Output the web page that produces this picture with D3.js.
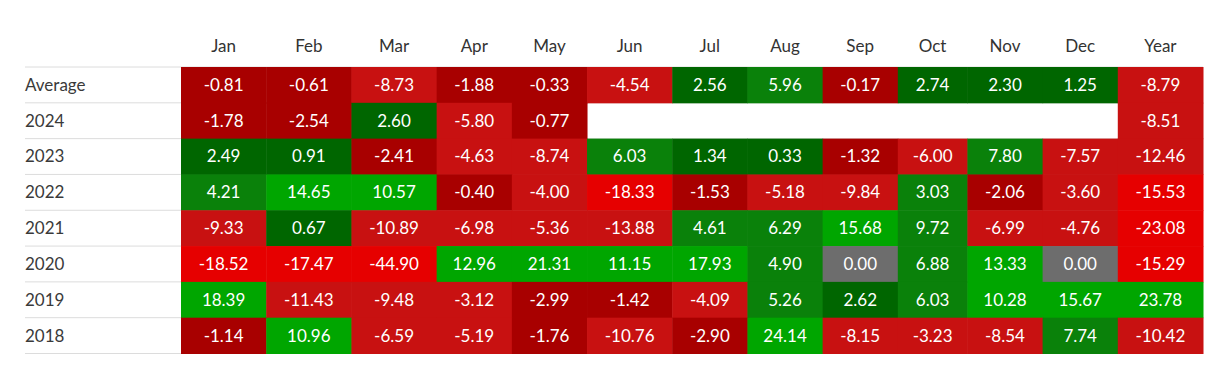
<!DOCTYPE html>
<html>
<head>
<meta charset="utf-8">
<script src="https://cdn.jsdelivr.net/npm/d3@7"></script>
<style>
  html, body { margin: 0; padding: 0; background: #fff; }
  svg { display: block; }
  svg text { font-variant-numeric: tabular-nums; }
</style>
</head>
<body>
<svg id="chart" width="1215" height="374"></svg>
<script>
// ---- data ----
const columns = ["Jan","Feb","Mar","Apr","May","Jun","Jul","Aug","Sep","Oct","Nov","Dec","Year"];
const rowLabels = ["Average","2024","2023","2022","2021","2020","2019","2018"];
const average = [-0.81, -0.61, -8.73, -1.88, -0.33, -4.54, 2.56, 5.96, -0.17, 2.74, 2.30, 1.25, -8.79];
const y2024   = [-1.78, -2.54, 2.60, -5.80, -0.77, null, null, null, null, null, null, null, -8.51];
const y2023   = [2.49, 0.91, -2.41, -4.63, -8.74, 6.03, 1.34, 0.33, -1.32, -6.00, 7.80, -7.57, -12.46];
const y2022   = [4.21, 14.65, 10.57, -0.40, -4.00, -18.33, -1.53, -5.18, -9.84, 3.03, -2.06, -3.60, -15.53];
const y2021   = [-9.33, 0.67, -10.89, -6.98, -5.36, -13.88, 4.61, 6.29, 15.68, 9.72, -6.99, -4.76, -23.08];
const y2020   = [-18.52, -17.47, -44.90, 12.96, 21.31, 11.15, 17.93, 4.90, 0.00, 6.88, 13.33, 0.00, -15.29];
const y2019   = [18.39, -11.43, -9.48, -3.12, -2.99, -1.42, -4.09, 5.26, 2.62, 6.03, 10.28, 15.67, 23.78];
const y2018   = [-1.14, 10.96, -6.59, -5.19, -1.76, -10.76, -2.90, 24.14, -8.15, -3.23, -8.54, 7.74, -10.42];
const rowValues = [average, y2024, y2023, y2022, y2021, y2020, y2019, y2018];

// colour buckets
const colorThresholds = [-15, -3, 0, 3, 10];
const colorRange = ["#e60000", "#c81111", "#a80000", "#006600", "#0a810a", "#00a600"];
const zeroColor = "#6d6d6d";

// ---- layout ----
const svg = d3.select("#chart");
const font = "Lato, 'Open Sans', sans-serif";
const fontSize = 17;
const leftX = 25, rightX = 1203, cellsLeft = 181;
const topY = 67, bottomY = 353.5, headerY = 46;
const pad = 4;

const fmt = v => v.toFixed(2);
const cells = [];
rowValues.forEach((vals, r) => vals.forEach((v, c) => {
  cells.push({row: rowLabels[r], col: columns[c], value: v});
}));

// measure column content widths (auto table layout)
const meas = svg.append("text").attr("font-family", font).attr("font-size", fontSize).attr("visibility", "hidden");
const colWidths = columns.map((col, c) => {
  const texts = [col].concat(rowValues.map(v => v[c]).filter(v => v != null).map(fmt));
  return d3.max(texts, t => { meas.text(t); return meas.node().getComputedTextLength(); }) + pad;
});
meas.remove();
const edges = [0].concat(Array.from(d3.cumsum(colWidths)));
const x = d3.scaleLinear().domain([0, edges[edges.length - 1]]).range([cellsLeft, rightX]);
const colStart = new Map(columns.map((c, i) => [c, x(edges[i])]));
const colEnd = new Map(columns.map((c, i) => [c, x(edges[i + 1])]));

const y = d3.scaleBand().domain(rowLabels).range([topY, bottomY]).padding(0);
const color = d3.scaleThreshold().domain(colorThresholds).range(colorRange);

// grid lines
const lineYs = rowLabels.map(r => y(r)).concat([bottomY]);
svg.append("g").selectAll("line").data(lineYs).join("line")
  .attr("x1", leftX).attr("x2", rightX)
  .attr("y1", d => d).attr("y2", d => d)
  .attr("stroke", "#dcdcdc").attr("stroke-width", 1);

// header
svg.append("g").selectAll("text").data(columns).join("text")
  .attr("x", d => (colStart.get(d) + colEnd.get(d)) / 2)
  .attr("y", headerY).attr("dy", "0.35em")
  .attr("text-anchor", "middle")
  .attr("font-family", font).attr("font-size", fontSize)
  .attr("fill", "#333").text(d => d);

// row labels
svg.append("g").selectAll("text").data(rowLabels).join("text")
  .attr("x", leftX).attr("y", d => y(d) + y.bandwidth() / 2).attr("dy", "0.35em")
  .attr("font-family", font).attr("font-size", fontSize)
  .attr("fill", "#3a3a3a").text(d => d);

// cells
const filled = cells.filter(d => d.value != null);
svg.append("g").selectAll("rect").data(filled).join("rect")
  .attr("x", d => colStart.get(d.col))
  .attr("y", d => y(d.row))
  .attr("width", d => colEnd.get(d.col) - colStart.get(d.col) + 0.5)
  .attr("height", y.bandwidth() + 0.5)
  .attr("fill", d => d.value === 0 ? zeroColor : color(d.value));

svg.append("g").selectAll("text").data(filled).join("text")
  .attr("x", d => (colStart.get(d.col) + colEnd.get(d.col)) / 2)
  .attr("y", d => y(d.row) + y.bandwidth() / 2).attr("dy", "0.35em")
  .attr("text-anchor", "middle")
  .attr("font-family", font).attr("font-size", fontSize)
  .attr("fill", "#fff").text(d => fmt(d.value));
</script>
</body>
</html>
